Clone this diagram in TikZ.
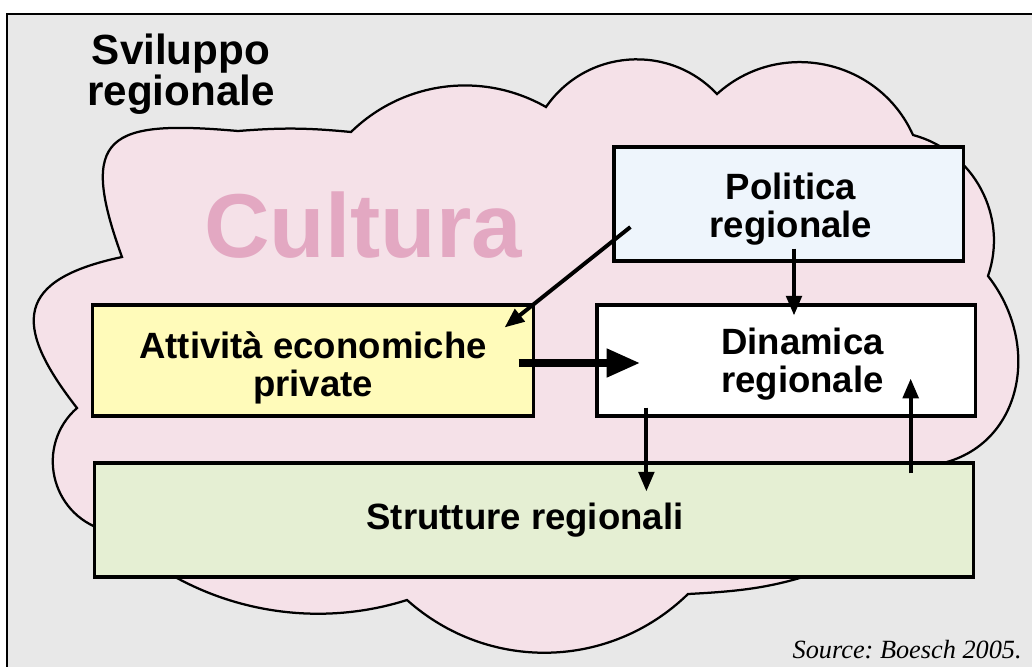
\documentclass[tikz,border=0pt]{standalone}
\usepackage{fontspec}
\setmainfont{Liberation Sans}
\newfontfamily\srcfont{Liberation Serif}
\usetikzlibrary{%
  arrows.meta,%
  calc,%
  positioning% wg. " of "
}

\definecolor{bggray}{HTML}{E8E8E8}
\definecolor{cloudpink}{HTML}{F5E1E8}
\definecolor{culturapink}{HTML}{E3A8C2}
\definecolor{polblue}{HTML}{EEF5FC}
\definecolor{attyellow}{HTML}{FFFBBA}
\definecolor{strgreen}{HTML}{E5EFD3}

\newcommand\titlefont{\fontsize{30}{29.2}\selectfont\bfseries}
\newcommand\culturafont{\fontsize{64.5}{64.5}\selectfont\bfseries}
\newcommand\boxfont{\fontsize{26}{27}\selectfont\bfseries}
\newcommand\sourcefont{\srcfont\itshape\frenchspacing\fontsize{18.7}{20}\selectfont}

\begin{document}
\begin{tikzpicture}[
  x=0.025cm, y=-0.025cm,
  box/.style={draw, line width=2.2pt, inner sep=0pt},
  boxtext/.style={font=\boxfont, align=center, inner sep=0pt},
  thinarrow/.style={-{Triangle[length=14pt,width=11pt]}, line width=2.8pt},
  thickarrow/.style={-{Triangle[length=24pt,width=19pt]}, line width=5.8pt},
]

\useasboundingbox (0,0) rectangle (1032,666);
\clip (0,0) rectangle (1032,666);
\draw[fill=bggray, line width=1.6pt] (7,14) rectangle (1045,680);

% cloud
\draw[fill=cloudpink, line width=1.6pt]
  (77,408) to[out=128, in=192, looseness=1.75] (122,257)
  to[out=110, in=175, looseness=1.95] (238,131)
  to[bend left=5] (351,132)
  to[bend left=37, looseness=0.95] (546,107)
  to[bend left=51, looseness=1.05] (717,94)
  to[bend left=54, looseness=1.07] (913,135)
  to[bend left=47, looseness=1.01] (988,276)
  to[out=-52, in=5, looseness=1.2] (925,466)
  -- (830,568)
  to[out=200, in=3] (688,594)
  to[bend left=43, looseness=0.99] (407,600)
  to[bend left=25, looseness=0.89] (160,568)
  -- (104,530)
  to[bend left=61, looseness=1.15] (77,408)
  -- cycle;

\node[font=\titlefont, align=center, inner sep=0pt] (title) at (181,74.5) {Sviluppo\\regionale};
\node[font=\culturafont, text=culturapink, inner sep=0pt] (cultura) at (363,225) {Cultura};

% boxes
\node[box, fill=polblue, minimum width=8.725cm, minimum height=2.85cm] (pol) at (788.5,204) {};
\node[box, fill=white, minimum width=9.45cm, minimum height=2.775cm] (din) at (786,360.5) {};
\node[box, fill=attyellow, minimum width=11cm, minimum height=2.775cm] (att) at (313,360.5) {};
\node[box, fill=strgreen, minimum width=21.95cm, minimum height=2.85cm] (str) at (534,520) {};

\node[boxtext] (poltext) at ($(pol)+(2.5,5.5)$) {Politica\\regionale};
\node[boxtext] (dintext) at ($(din)+(16.5,4)$) {Dinamica\\regionale};
\node[boxtext] (atttext) at ($(att)+(0,7)$) {Attivit\`a economiche\\private};
\node[boxtext] (strtext) at ($(str)+(-9,0.5)$) {Strutture regionali};

% arrows
\draw[thinarrow] ($(pol.west)+(18,23)$) -- ($(att.north east)+(-30,24)$);
\draw[thinarrow] ($(pol.south)+(5.5,-14)$) coordinate (p2) -- ($(p2 |- din.north)+(0,12)$);
\draw[thickarrow] ($(att.east)+(-16,2.5)$) coordinate (p3) -- ($(p3 -| din.west)+(45,0)$);
\draw[thinarrow] ($(din.south west)+(51,-10)$) coordinate (p4) -- ($(p4 |- str.north)+(0,30)$);
\draw[thinarrow] ($(str.north east)+(-64,12)$) coordinate (p5) -- ($(p5 |- din.south)+(0,-39)$);

\node[font=\sourcefont, anchor=base east, inner sep=0pt] (source) at (1022,658) {Source: Boesch 2005.};

\end{tikzpicture}
\end{document}
